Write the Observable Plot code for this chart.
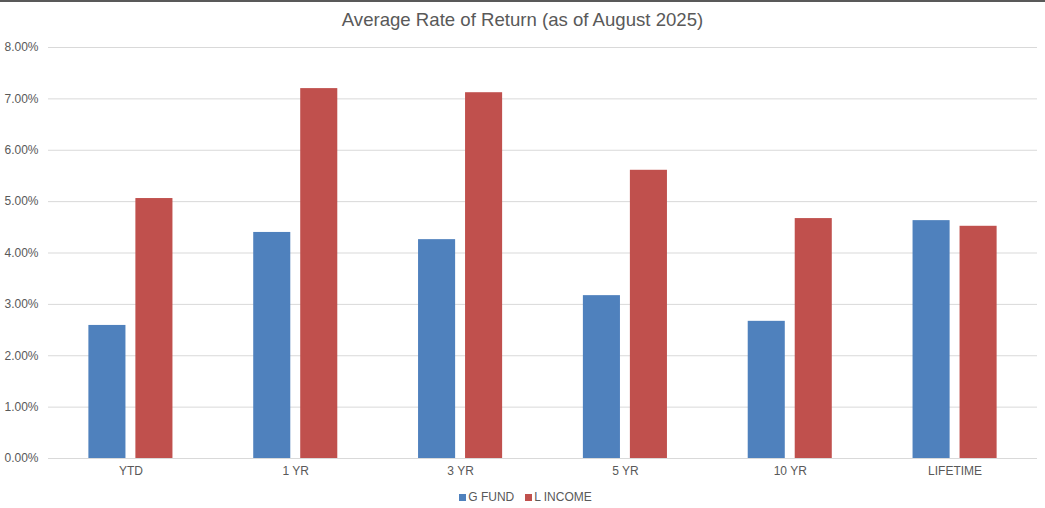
<!DOCTYPE html>
<html>
<head>
<meta charset="utf-8">
<script src="https://cdn.jsdelivr.net/npm/d3@7"></script>
<script src="https://cdn.jsdelivr.net/npm/@observablehq/plot@0.6"></script>
<style>
  html, body { margin: 0; padding: 0; background: #fff; }
  body { width: 1045px; height: 508px; overflow: hidden; font-family: "Liberation Sans", Arial, sans-serif; }
  #frame { border-top: 2px solid #595959; width: 1045px; }
  #title { height: 32px; line-height: 36px; text-align: center; font-size: 18.6px; color: #595959; }
  #legend { display: flex; justify-content: center; gap: 11px; font-size: 12px; color: #595959; margin-top: 6px; padding-left: 6px; }
  #legend span.sw { display: inline-block; width: 7px; height: 7px; margin-right: 2px; }
  #legend div { display: flex; align-items: center; }
</style>
</head>
<body>
<div id="frame">
  <div id="title">Average Rate of Return (as of August 2025)</div>
  <div id="chart"></div>
  <div id="legend"></div>
</div>
<script>
const categories = ["YTD", "1 YR", "3 YR", "5 YR", "10 YR", "LIFETIME"];
const seriesNames = ["G FUND", "L INCOME"];
const gFund = [2.59, 4.40, 4.26, 3.17, 2.67, 4.63];
const lIncome = [5.06, 7.20, 7.12, 5.61, 4.67, 4.52];
const yTicks = [0, 1, 2, 3, 4, 5, 6, 7, 8];
const colors = ["#4f81bd", "#c0504d"];

const gData = categories.map((c, i) => ({cat: c, series: seriesNames[0], value: gFund[i]}));
const lData = categories.map((c, i) => ({cat: c, series: seriesNames[1], value: lIncome[i]}));

const chart = Plot.plot({
  width: 1045,
  height: 450,
  marginTop: 13,
  marginBottom: 26,
  marginLeft: 48,
  marginRight: 8,
  style: {fontFamily: "'Liberation Sans', Arial, sans-serif", fontSize: "12px", color: "#595959", background: "white"},
  x: {domain: categories, paddingInner: 0.49, paddingOuter: 0.245, round: false, label: null, tickSize: 0, tickPadding: 9},
  y: {domain: [0, 8], ticks: yTicks, tickFormat: d => d.toFixed(2) + "%", label: null, tickSize: 0, tickPadding: 10},
  marks: [
    Plot.ruleY(yTicks, {stroke: "#d9d9d9", strokeWidth: 1}),
    Plot.barY(gData, {x: "cat", y: "value", fill: colors[0], insetRight: 47}),
    Plot.barY(lData, {x: "cat", y: "value", fill: colors[1], insetLeft: 47}),
    Plot.axisX({tickSize: 0, tickPadding: 8, label: null, fill: "#595959"}),
    Plot.axisY({ticks: yTicks, tickFormat: d => d.toFixed(2) + "%", tickSize: 0, tickPadding: 10, label: null, fill: "#595959"})
  ]
});
document.getElementById("chart").appendChild(chart);

const legend = document.getElementById("legend");
seriesNames.forEach((s, i) => {
  const item = document.createElement("div");
  const sw = document.createElement("span");
  sw.className = "sw";
  sw.style.background = colors[i];
  item.appendChild(sw);
  item.appendChild(document.createTextNode(s));
  legend.appendChild(item);
});
</script>
</body>
</html>
